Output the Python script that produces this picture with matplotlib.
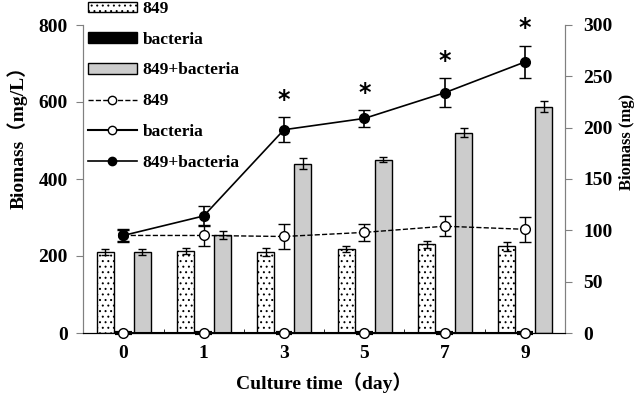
import matplotlib.pyplot as plt
from matplotlib.lines import Line2D
from matplotlib.patches import Patch
import numpy as np

# -------------------------------
# Data
# -------------------------------
days = ['0', '1', '3', '5', '7', '9']

# bars, left axis (mg/L)
bar_849 = [210, 212, 210, 218, 230, 225]
bar_849_err = [7, 8, 10, 8, 10, 12]
bar_bact = [0, 0, 0, 0, 0, 0]
bar_mix = [210, 255, 440, 450, 520, 588]
bar_mix_err = [8, 10, 15, 6, 12, 15]

# lines, right axis (mg)
line_849 = [95, 95, 94, 98, 104, 101]
line_849_err = [5, 10, 12, 8, 10, 12]
line_bact = [0, 0, 0, 0, 0, 0]
line_mix = [95, 114, 198, 209, 234, 264]
line_mix_err = [6, 10, 12, 8, 14, 16]

star_idx = [2, 3, 4, 5]

plt.rcParams['font.family'] = ['Liberation Serif', 'Noto Sans CJK SC']
plt.rcParams['font.weight'] = 'bold'
plt.rcParams['hatch.linewidth'] = 0.7

x = np.arange(len(days))
w = 0.21

fig = plt.figure(figsize=(6.4, 4), dpi=100)
ax = fig.add_axes([0.13, 0.1675, 0.753, 0.77])
ax2 = ax.twinx()

# bars
ax.bar(x - 0.225, bar_849, w, yerr=bar_849_err, color='white', edgecolor='black',
       hatch='...', linewidth=1, capsize=3, error_kw=dict(elinewidth=1, capthick=1),
       zorder=2)
ax.bar(x, bar_bact, w, color='black', edgecolor='black', linewidth=3,
       zorder=2, clip_on=False)
ax.bar(x + 0.235, bar_mix, w, yerr=bar_mix_err, color='#cccccc', edgecolor='black',
       linewidth=1, capsize=3, error_kw=dict(elinewidth=1, capthick=1), zorder=2)

# lines
ax2.errorbar(x, line_849, yerr=line_849_err, fmt='--o', color='black', mfc='white',
             ms=7, lw=1, capsize=4, zorder=3)
ax2.plot(x, line_bact, '-o', color='black', mfc='white', ms=7, lw=1.5,
         zorder=4, clip_on=False)
ax2.errorbar(x, line_mix, yerr=line_mix_err, fmt='-o', color='black', mfc='black',
             ms=7, lw=1.2, capsize=4, zorder=3)

# significance marks
for i in star_idx:
    ax2.text(x[i], line_mix[i] + line_mix_err[i] + 17, '*', ha='center', va='center',
             fontsize=17, fontweight='bold', family='DejaVu Sans')

ax.set_xlim(-0.5, 5.5)
ax.set_ylim(0, 800)
ax.set_yticks([0, 200, 400, 600, 800])
ax2.set_ylim(0, 300)
ax2.set_yticks(range(0, 301, 50))

ax.set_xticks(x)
ax.set_xticklabels(days)
ax.set_xticks(x[:-1] + 0.5, minor=True)
ax.tick_params(axis='x', which='major', length=0, labelsize=14, pad=9)
ax.tick_params(axis='x', which='minor', direction='in', length=3)
ax.tick_params(axis='y', labelsize=14, length=5, color='gray', pad=6)
ax2.tick_params(axis='y', labelsize=14, length=5, color='gray', pad=8)

for a in (ax, ax2):
    a.spines['top'].set_visible(False)
    a.spines['left'].set_color('gray')
    a.spines['right'].set_color('gray')

ax.set_ylabel('Biomass（mg/L）', fontsize=14, fontweight='bold')
ax.yaxis.set_label_coords(-0.115, 0.65)
ax2.set_ylabel('Biomass (mg)', fontsize=12, fontweight='bold')
ax2.yaxis.set_label_coords(1.112, 0.62)
ax.set_xlabel('Culture time（day）', fontsize=14, fontweight='bold', labelpad=7)

handles = [
    Patch(facecolor='white', edgecolor='black', hatch='...', label='849'),
    Patch(facecolor='black', edgecolor='black', label='bacteria'),
    Patch(facecolor='#cccccc', edgecolor='black', label='849+bacteria'),
    Line2D([], [], ls='--', marker='o', color='black', mfc='white', ms=6, lw=1, label='849'),
    Line2D([], [], ls='-', marker='o', color='black', mfc='white', ms=6, lw=1.5, label='bacteria'),
    Line2D([], [], ls='-', marker='o', color='black', mfc='black', ms=6, lw=1.2, label='849+bacteria'),
]
ax2.legend(handles=handles, loc='upper left', bbox_to_anchor=(0.01, 1.078),
           frameon=False, fontsize=12.5, handlelength=2.8, handleheight=0.55,
           labelspacing=0.85, handletextpad=0.35, borderpad=0, borderaxespad=0)

plt.savefig('out.png', dpi=100)
